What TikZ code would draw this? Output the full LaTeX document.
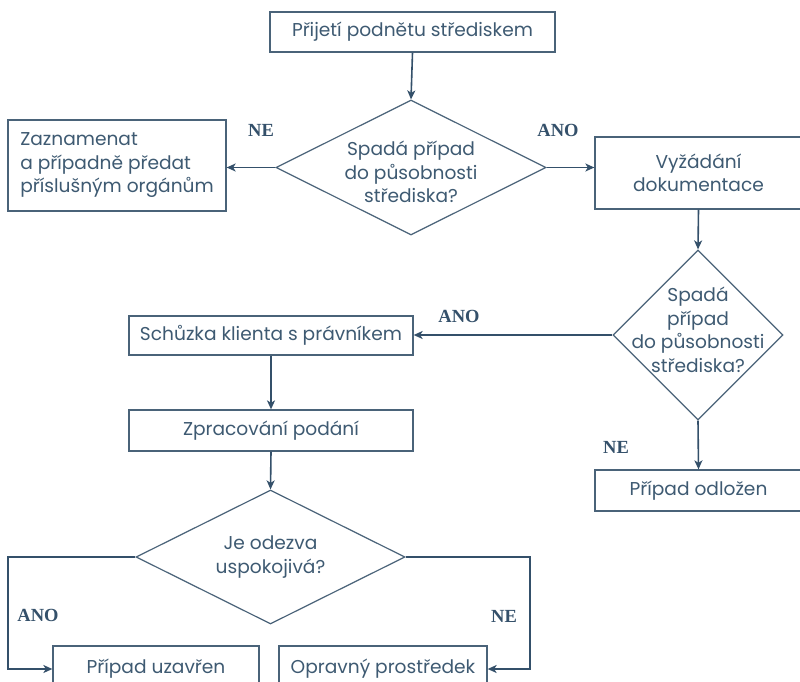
\documentclass[tikz,border=0pt]{standalone}
\usepackage{fontspec}
\setmainfont{Poppins}
\newfontfamily\lblfont{Liberation Serif}
\usetikzlibrary{shapes.geometric,arrows.meta}
\definecolor{linec}{HTML}{34506A}
\definecolor{boxc}{HTML}{4A6379}
\definecolor{txtc}{HTML}{3E5A72}
\begin{document}
\begin{tikzpicture}[x=1pt,y=-1pt,
  box/.style={draw=boxc, line width=1.3pt, rectangle, inner sep=0pt, text=txtc,
    font=\fontsize{18.6}{23.5}\selectfont, align=center},
  dia/.style={draw=boxc, line width=1.2pt, diamond, inner sep=0pt},
  dtxt/.style={text=txtc, font=\fontsize{18.6}{23.5}\selectfont, align=center, inner sep=0pt},
  lbl/.style={text=linec, font=\lblfont\bfseries\fontsize{18.5}{20}\selectfont, inner sep=0pt},
  arr/.style={draw=linec, line width=1.6pt, -{Stealth[length=9pt,width=8pt,inset=2.5pt]}}
]
\useasboundingbox (0,0) rectangle (800,682);
\fill[white] (0,0) rectangle (800,682);

\node[box, minimum width=285pt, minimum height=40pt] (n1) at (412.5,32) {Přijetí podnětu střediskem};
\node[dia, minimum width=270pt, minimum height=135pt] (d1) at (411,167.5) {};
\node[dtxt] (t1) at (411,172) {Spadá případ\\do působnosti\\střediska?};
\node[box, minimum width=218pt, minimum height=91pt, align=left] (n2) at (117,165.5) {Zaznamenat\\a případně předat\\příslušným orgánům};
\node[box, minimum width=207pt, minimum height=72pt] (n3) at (698.5,173) {Vyžádání\\dokumentace};
\node[dia, minimum width=170pt, minimum height=170pt] (d2) at (698,335) {};
\node[dtxt] (t2) at (698,330) {Spadá\\případ\\do působnosti\\střediska?};
\node[box, minimum width=284pt, minimum height=39pt] (n4) at (271,335.5) {Schůzka klienta s právníkem};
\node[box, minimum width=207pt, minimum height=41pt] (n5) at (698.5,490.5) {Případ odložen};
\node[box, minimum width=284pt, minimum height=41pt] (n6) at (271,430.5) {Zpracování podání};
\node[dia, minimum width=269pt, minimum height=134pt] (d3) at (270.5,557) {};
\node[dtxt] (t3) at (270.5,557) {Je odezva\\uspokojivá?};
\node[box, minimum width=206pt, minimum height=46pt] (n7) at (156,669) {Případ uzavřen};
\node[box, minimum width=208pt, minimum height=46pt] (n8) at (383,669) {Opravný prostředek};

\coordinate (cl) at (8,557);
\coordinate (cr) at (530,557);

\draw[arr] (n1.south) -- (d1.north);
\draw[arr] (d1.west) -- (d1.west -| n2.east);
\draw[arr] (d1.east) -- (d1.east -| n3.west);
\draw[arr] (n3.south) -- (d2.north);
\draw[arr] (d2.west) -- (d2.west -| n4.east);
\draw[arr] (d2.south) -- (n5.north);
\draw[arr] (n4.south) -- (n6.north);
\draw[arr] (n6.south) -- (d3.north);
\draw[arr] (d3.west) -- (cl) |- (n7.west);
\draw[arr] (d3.east) -- (cr) |- (n8.east);

\node[lbl] (l1) at (261,130) {NE};
\node[lbl] (l2) at (558,130) {ANO};
\node[lbl] (l3) at (459,316) {ANO};
\node[lbl] (l4) at (616,447) {NE};
\node[lbl] (l5) at (38,615) {ANO};
\node[lbl] (l6) at (504,616) {NE};
\end{tikzpicture}
\end{document}
